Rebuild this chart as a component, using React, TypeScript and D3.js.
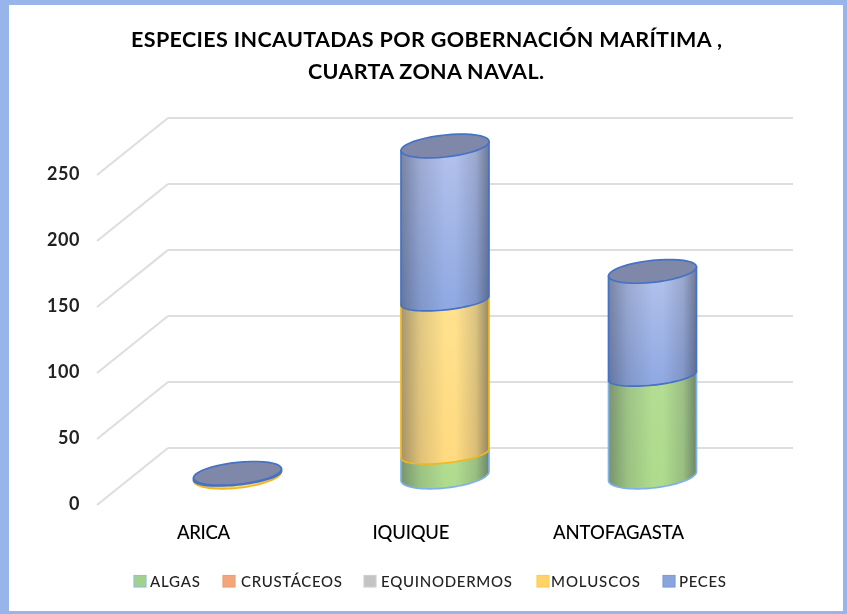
import React from "react";
import * as d3 from "d3";

const titleLines = ["ESPECIES INCAUTADAS POR GOBERNACIÓN MARÍTIMA ,", "CUARTA ZONA NAVAL."];
const categories = ["ARICA", "IQUIQUE", "ANTOFAGASTA"];
const seriesNames = ["ALGAS", "CRUSTÁCEOS", "EQUINODERMOS", "MOLUSCOS", "PECES"];
const algas = [0, 17, 76];
const crustaceos = [0, 0, 0];
const equinodermos = [0, 0, 0];
const moluscos = [0.4, 116, 0];
const peces = [1.6, 117, 79];
const yTicks = [0, 50, 100, 150, 200, 250];

const seriesValues = [algas, crustaceos, equinodermos, moluscos, peces];
const topColor = ["#b4dd94", "#f4b08c", "#c8c8c8", "#ffe28f", "#b4c3ec"];
const bottomColor = ["#aedb8c", "#f0a070", "#bdbdbd", "#ffda80", "#8fa8e2"];
const strokeColor = ["#7fb2e6", "#ed7d31", "#a5a5a5", "#efb81f", "#4472c4"];
const legendFill = ["#a3d189", "#f3a67c", "#c4c4c4", "#ffd366", "#8aa4dc"];
const legendStroke = ["#8cc0ea", "#f0a070", "#cfcfcf", "#ffcf4d", "#7f9cdc"];
const legendMarkX = [134, 223, 364, 537, 663];
const legendTextX = [150, 241, 381, 551, 679];
const legendTextW = [50, 101, 131, 89, 47];
const catTextW = [53, 77, 131];

const W = 847, H = 614;
const FONT = "Lato, 'Open Sans', sans-serif";
const backY = d3.scaleLinear().domain([0, 250]).range([448, 118]);
const frontY = d3.scaleLinear().domain([0, 250]).range([505, 175]);
const barY = d3.scaleLinear().domain([0, 250]).range([476, 146]);
const labelY = d3.scaleLinear().domain([0, 250]).range([503.5, 173.5]);
const xBand = d3.scaleBand<string>().domain(categories).range([133.75, 756.25]);
const RX = 44, RY = 11, RY_INNER = 9.5, SHEAR = 4.5;

const arc = (cx: number, cy: number, a0: number, a1: number, ry: number) =>
  d3.range(0, 41).map((i) => {
    const t = a0 + ((a1 - a0) * i) / 40;
    return [cx + RX * Math.cos(t), cy - SHEAR * Math.cos(t) - ry * Math.sin(t)] as [number, number];
  });
const line = d3.line();

export default function App() {
  const bars: React.ReactNode[] = [];
  categories.forEach((c, ci) => {
    const cx = xBand(c)! + xBand.bandwidth() / 2;
    let acc = 0;
    let lastS = -1;
    let lastY = 0;
    seriesValues.forEach((vals, si) => {
      const v = vals[ci];
      if (v <= 0) return;
      const y0 = barY(acc);
      const ry = acc === 0 ? RY + 1 : RY_INNER;
      acc += v;
      const y1 = barY(acc);
      const pts: [number, number][] = [
        [cx + RX, y1 - SHEAR],
        ...arc(cx, y0, 0, -Math.PI, ry),
        [cx - RX, y1 + SHEAR],
      ];
      const d = line(pts)! + "Z";
      bars.push(
        <g key={c + si}>
          <path d={d} fill={`url(#v${si})`} />
          <path d={d} fill="url(#shade)" stroke={strokeColor[si]} strokeWidth={1.7} strokeLinejoin="round" />
        </g>
      );
      lastS = si;
      lastY = y1;
    });
    if (lastS >= 0) {
      bars.push(
        <path
          key={c + "top"}
          d={line(arc(cx, lastY, 0, Math.PI * 2, RY))! + "Z"}
          fill="#7f88a8"
          stroke={strokeColor[lastS]}
          strokeWidth={1.7}
        />
      );
    }
  });

  return (
    <svg
      width={W}
      height={H}
      viewBox={`0 0 ${W} ${H}`}
      style={{ position: "absolute", left: 0, top: 0, background: "#fff" }}
    >
      <defs>
        {topColor.map((t, i) => (
          <linearGradient key={i} id={`v${i}`} x1="0" y1="0" x2="0" y2="1">
            <stop offset="0" stopColor={t} />
            <stop offset="1" stopColor={bottomColor[i]} />
          </linearGradient>
        ))}
        <linearGradient id="shade" x1="0" y1="0" x2="1" y2="0">
          <stop offset="0" stopColor="#2a3040" stopOpacity={0.42} />
          <stop offset="0.22" stopColor="#2a3040" stopOpacity={0.15} />
          <stop offset="0.5" stopColor="#2a3040" stopOpacity={0} />
          <stop offset="0.62" stopColor="#2a3040" stopOpacity={0} />
          <stop offset="0.85" stopColor="#2a3040" stopOpacity={0.17} />
          <stop offset="1" stopColor="#2a3040" stopOpacity={0.5} />
        </linearGradient>
        <filter id="soft" x="-5%" y="-5%" width="110%" height="110%">
          <feGaussianBlur stdDeviation="0.75" />
        </filter>
        <filter id="softText" x="-5%" y="-20%" width="110%" height="140%">
          <feGaussianBlur stdDeviation="0.45" />
        </filter>
      </defs>

      <rect x={0} y={0} width={W} height={H} fill="#97b5ea" />
      <rect x={9} y={5} width={834} height={606} fill="#fff" />

      <g filter="url(#soft)">
        {yTicks.map((t) => (
          <g key={t} fill="none" stroke="#dedede" strokeWidth={2.2}>
            <line x1={97} y1={frontY(t)} x2={168} y2={backY(t)} />
            <line x1={168} y1={backY(t)} x2={793} y2={backY(t)} />
          </g>
        ))}
        {bars}
        {seriesNames.map((s, i) => (
          <rect
            key={s}
            x={legendMarkX[i]}
            y={575.5}
            width={12}
            height={11.5}
            fill={legendFill[i]}
            stroke={legendStroke[i]}
            strokeWidth={1.2}
          />
        ))}
      </g>

      <g filter="url(#softText)" fontFamily={FONT} fill="#000">
        {titleLines.map((l, i) => (
          <text
            key={i}
            x={i === 0 ? 131 : 308}
            y={47 + i * 32}
            fontSize={21.5}
            fontWeight={700}
            textLength={i === 0 ? 591 : 236}
            lengthAdjust="spacing"
          >
            {l}
          </text>
        ))}
        {yTicks.map((t) => (
          <text key={t} x={80} y={labelY(t)} dy="0.36em" fontSize={18} fontWeight={700} textAnchor="end" letterSpacing={0.6} fill="#222">
            {t}
          </text>
        ))}
        {categories.map((c, i) => (
          <text
            key={c}
            x={xBand(c)! + xBand.bandwidth() / 2 - 34 - catTextW[i] / 2}
            y={539}
            fontSize={18.5}
            fontWeight={500}
            textLength={catTextW[i]}
            lengthAdjust="spacing"
          >
            {c}
          </text>
        ))}
        {seriesNames.map((s, i) => (
          <text
            key={s}
            x={legendTextX[i]}
            y={586.5}
            fontSize={15}
            fontWeight={500}
            fill="#222"
            textLength={legendTextW[i]}
            lengthAdjust="spacing"
          >
            {s}
          </text>
        ))}
      </g>
    </svg>
  );
}
